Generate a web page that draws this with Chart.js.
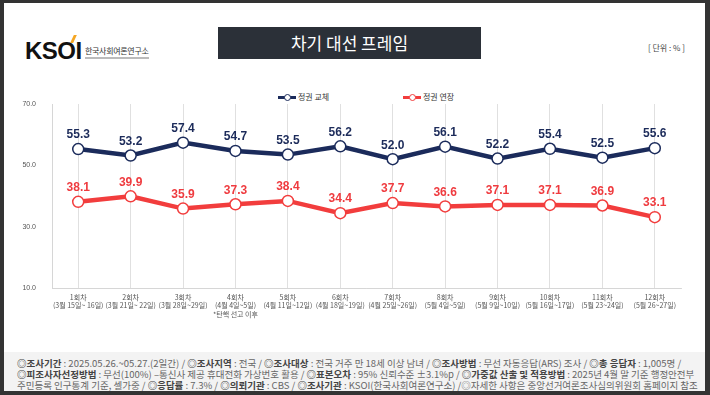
<!DOCTYPE html>
<html>
<head>
<meta charset="utf-8">
<script src="https://cdn.jsdelivr.net/npm/chart.js@4.4.1/dist/chart.umd.min.js"></script>
<style>
  html, body { margin: 0; padding: 0; }
  body { width: 710px; height: 395px; position: relative; overflow: hidden; background: #333; font-family: "Noto Sans CJK KR", "Noto Sans", sans-serif; }
  #page { position: absolute; left: 4px; top: 3px; width: 701px; height: 388px; background: #fff; }
  #logo { position: absolute; left: 21px; top: 34px; font: bold 24px "Liberation Sans", Arial, sans-serif; color: #111; letter-spacing: -0.5px; }
  #logo .acc { position: absolute; left: 47px; top: -2px; width: 3px; height: 8px; background: #f5a623; transform: skewX(-25deg); }
  #logoSub { position: absolute; left: 81px; top: 42px; font-size: 8px; color: #333; border-bottom: 2px solid #bbb; padding-bottom: 1px; letter-spacing: -0.3px; }
  #title { position: absolute; left: 214px; top: 24px; width: 263px; height: 32px; background: #2b3038; color: #fff; font-size: 17px; line-height: 32px; text-align: center; }
  #unit { position: absolute; left: 644px; top: 39px; font-size: 8px; color: #444; }
  #legend { position: absolute; top: 89px; left: 0; width: 701px; font-size: 8px; color: #333; }
  .li { position: absolute; top: 0; height: 10px; line-height: 10px; white-space: nowrap; }
  .li .ln { position: absolute; left: 0; top: 4px; width: 18px; height: 3px; }
  .li .dot { position: absolute; left: 6px; top: 2px; width: 5px; height: 5px; border-radius: 50%; background: #fff; border: 1px solid; }
  .li .tx { position: absolute; left: 20px; top: 0; }
  #footer { position: absolute; left: 0; top: 349px; width: 701px; height: 39px; background: #f3f3f3; }
  #footer div { position: absolute; left: 13px; font-size: 9.5px; color: #666; white-space: nowrap; letter-spacing: 0px; }
  #footer b { color: #444; }
  canvas { position: absolute; left: 0; top: 0; }
</style>
</head>
<body>
<div id="page">
  <div id="logo">KSOI<span class="acc"></span></div>
  <div id="logoSub">한국사회여론연구소</div>
  <div id="title">차기 대선 프레임</div>
  <div id="unit">[ 단위 : % ]</div>
  <div id="legend">
    <div class="li" style="left:274px"><span class="ln" style="background:#1b2b5b"></span><span class="dot" style="border-color:#1b2b5b"></span><span class="tx">정권 교체</span></div>
    <div class="li" style="left:399px"><span class="ln" style="background:#f23d3d"></span><span class="dot" style="border-color:#f23d3d"></span><span class="tx">정권 연장</span></div>
  </div>
  <div id="footer">
    <div style="top:4px"><b>◎조사기간</b> : 2025.05.26.~05.27.(2일간) / <b>◎조사지역</b> : 전국 / <b>◎조사대상</b> : 전국 거주 만 18세 이상 남녀 / <b>◎조사방법</b> : 무선 자동응답(ARS) 조사 / <b>◎총 응답자</b> : 1,005명 /</div>
    <div style="top:15px"><b>◎피조사자선정방법</b> : 무선(100%) –통신사 제공 휴대전화 가상번호 활용 / <b>◎표본오차</b> : 95% 신뢰수준 ±3.1%p / <b>◎가중값 산출 및 적용방법</b> : 2025년 4월 말 기준 행정안전부</div>
    <div style="top:26px">주민등록 인구통계 기준, 셀가중 / <b>◎응답률</b> : 7.3% / <b>◎의뢰기관</b> : CBS / <b>◎조사기관</b> : KSOI(한국사회여론연구소) /◎자세한 사항은 중앙선거여론조사심의위원회 홈페이지 참조</div>
  </div>
</div>
<canvas id="chart" width="710" height="395"></canvas>
<script>
//-----------------------------------------
// DATA
//-----------------------------------------
const rounds = [
  ["1회차", "(3월 15일~ 16일)"],
  ["2회차", "(3월 21일~ 22일)"],
  ["3회차", "(3월 28일~29일)"],
  ["4회차", "(4월 4일~5일)", "*탄핵 선고 이후"],
  ["5회차", "(4월 11일~12일)"],
  ["6회차", "(4월 18일~19일)"],
  ["7회차", "(4월 25일~26일)"],
  ["8회차", "(5월 4일~5일)"],
  ["9회차", "(5월 9일~10일)"],
  ["10회차", "(5월 16일~17일)"],
  ["11회차", "(5월 23~24일)"],
  ["12회차", "(5월 26~27일)"]
];
const change = [55.3, 53.2, 57.4, 54.7, 53.5, 56.2, 52.0, 56.1, 52.2, 55.4, 52.5, 55.6];
const extend = [38.1, 39.9, 35.9, 37.3, 38.4, 34.4, 37.7, 36.6, 37.1, 37.1, 36.9, 33.1];
const yTicks = [10, 30, 50, 70];

const NAVY = "#1b2b5b";
const RED = "#f23d3d";

//-----------------------------------------
// VALUE LABELS ABOVE POINTS
//-----------------------------------------
const valueLabels = {
  id: "valueLabels",
  afterDatasetsDraw(chart) {
    const ctx = chart.ctx;
    ctx.save();
    ctx.font = "bold 12px 'Liberation Sans', Arial, sans-serif";
    ctx.textAlign = "center";
    ctx.textBaseline = "bottom";
    chart.data.datasets.forEach((ds, i) => {
      const meta = chart.getDatasetMeta(i);
      ctx.fillStyle = ds.labelColor;
      meta.data.forEach((pt, j) => {
        ctx.fillText(ds.data[j].toFixed(1), pt.x, pt.y - 8);
      });
    });
    ctx.restore();
  }
};

//-----------------------------------------
// CHART
//-----------------------------------------
new Chart(document.getElementById("chart"), {
  type: "line",
  data: {
    labels: rounds,
    datasets: [
      {
        label: "정권 교체",
        data: change,
        borderColor: NAVY,
        labelColor: "#1c2b5a",
        borderWidth: 4.5,
        pointRadius: 5.5,
        pointBorderWidth: 1.5,
        pointBackgroundColor: "#fff",
        pointBorderColor: NAVY,
        tension: 0
      },
      {
        label: "정권 연장",
        data: extend,
        borderColor: RED,
        labelColor: "#ef3b3f",
        borderWidth: 4.5,
        pointRadius: 5.5,
        pointBorderWidth: 1.5,
        pointBackgroundColor: "#fff",
        pointBorderColor: RED,
        tension: 0
      }
    ]
  },
  options: {
    responsive: false,
    animation: false,
    layout: { padding: { left: 0, right: 29, top: 104, bottom: 0 } },
    plugins: { legend: { display: false }, tooltip: { enabled: false } },
    scales: {
      x: {
        offset: true,
        grid: { offset: false, color: "#d8d8d8", lineWidth: 0.8, drawTicks: false },
        border: { color: "#d6d6d6" },
        ticks: {
          color: "#555",
          font: { size: 7, family: "'Noto Sans CJK KR', sans-serif" },
          padding: 5,
          maxRotation: 0,
          autoSkip: false
        },
        afterFit(scale) { scale.height = 107; }
      },
      y: {
        min: 10,
        max: 70,
        afterBuildTicks(scale) { scale.ticks = yTicks.map(v => ({ value: v })); },
        grid: { display: false },
        border: { color: "#d6d6d6" },
        ticks: {
          color: "#555",
          font: { size: 7, family: "'Liberation Sans', Arial, sans-serif" },
          padding: 8,
          callback: v => v.toFixed(1)
        },
        afterFit(scale) { scale.width = 52; }
      }
    }
  },
  plugins: [valueLabels]
});
</script>
</body>
</html>
